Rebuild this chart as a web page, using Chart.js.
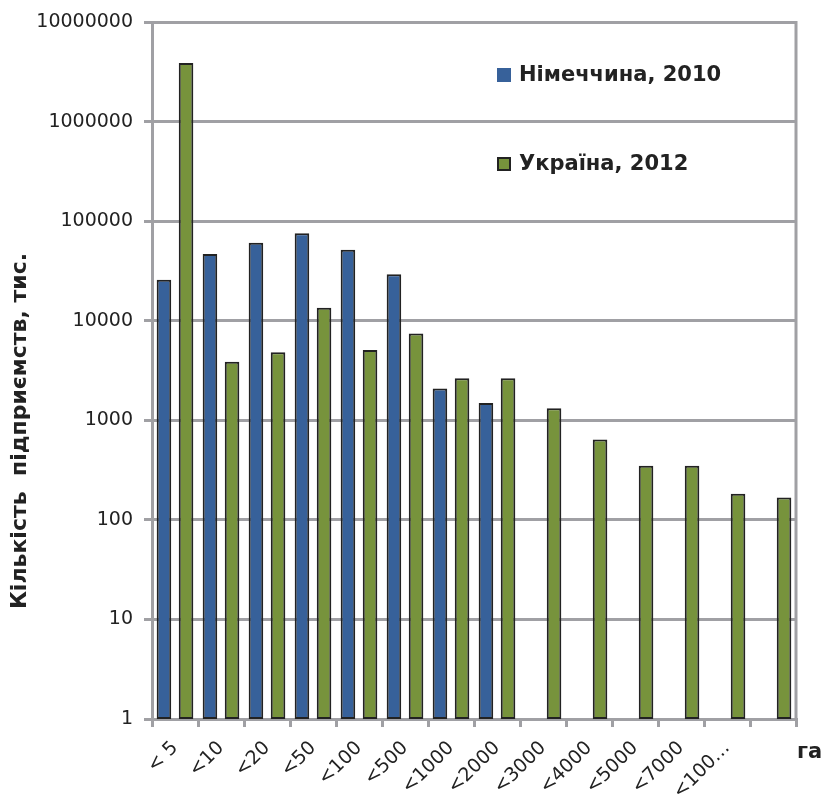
<!DOCTYPE html>
<html>
<head>
<meta charset="utf-8">
<script src="https://cdn.jsdelivr.net/npm/chart.js@4.4.0/dist/chart.umd.min.js"></script>
<style>
  html, body { margin: 0; padding: 0; background: #fff; }
</style>
</head>
<body>
<canvas id="chartFermy" width="826" height="798"></canvas>
<script>
//* DATOS
const Kategorii = ['< 5', '<10', '<20', '<50', '<100', '<500', '<1000', '<2000', '<3000', '<4000', '<5000', '<7000', '<100…', ''];
const Nimechchyna = [26000, 47000, 61000, 76000, 52000, 29500, 2100, 1500, null, null, null, null, null, null];
const Ukraina = [3900000, 3900, 4850, 13600, 5100, 7500, 2650, 2650, 1330, 645, 350, 350, 183, 168];
const RyskyY = [1, 10, 100, 1000, 10000, 100000, 1000000, 10000000];
const Serii = ['Німеччина, 2010', 'Україна, 2012'];
const NazvaY = 'Кількість  підприємств, тис.';
const NazvaX = 'га';

const SIRYI = '#a0a0a4';
const TEKST = '#222222';
const SHRYFT = "'DejaVu Sans', Verdana, sans-serif";
const Kolory = ['#37619a', '#77933c'];

const ctxFermy = document.getElementById('chartFermy');

// leyenda, título del eje y borde derecho dibujados a mano
const Dodatky = {
    id: 'dodatky',
    beforeDatasetsDraw(chart) {
        const { ctx, chartArea: a } = chart;
        ctx.save();
        ctx.strokeStyle = SIRYI;
        ctx.lineWidth = 3;
        ctx.beginPath();
        ctx.moveTo(a.right, a.top - 1.5);
        ctx.lineTo(a.right, a.bottom);
        ctx.stroke();
        ctx.restore();
    },
    afterDraw(chart) {
        const { ctx } = chart;
        ctx.save();
        // leyenda
        const pozY = [75, 164];
        chart.data.datasets.forEach((ds, i) => {
            ctx.fillStyle = ds.backgroundColor;
            ctx.fillRect(497, pozY[i] - 7, 14, 14);
            if (i === 1) {
                ctx.strokeStyle = '#222';
                ctx.lineWidth = 2;
                ctx.strokeRect(498, pozY[i] - 6, 12, 12);
            }
            ctx.fillStyle = TEKST;
            ctx.font = 'bold 21px ' + SHRYFT;
            ctx.textAlign = 'left';
            ctx.textBaseline = 'middle';
            ctx.fillText(ds.label, 519, pozY[i] + 1);
        });
        // título eje Y
        ctx.save();
        ctx.translate(20, 431);
        ctx.rotate(-Math.PI / 2);
        ctx.font = 'bold 22px ' + SHRYFT;
        ctx.textAlign = 'center';
        ctx.textBaseline = 'middle';
        ctx.fillText(NazvaY, 0, 0);
        ctx.restore();
        // unidad eje X
        ctx.font = 'bold 21px ' + SHRYFT;
        ctx.textAlign = 'left';
        ctx.textBaseline = 'middle';
        ctx.fillText(NazvaX, 797, 753);
        ctx.restore();
    }
};

let dataFermy = {
    labels: Kategorii,
    datasets: [{
        label: Serii[0],
        data: Nimechchyna,
        backgroundColor: Kolory[0],
        borderColor: '#222',
        borderWidth: 2,
        borderSkipped: false
    }, {
        label: Serii[1],
        data: Ukraina,
        backgroundColor: Kolory[1],
        borderColor: '#222',
        borderWidth: 2,
        borderSkipped: false
    }]
};

let Options = {
    responsive: false,
    animation: false,
    devicePixelRatio: 1,
    layout: { padding: { top: 6, right: 30, bottom: 0, left: 0 } },
    datasets: { bar: { categoryPercentage: 0.96, barPercentage: 0.66 } },
    plugins: {
        legend: { display: false },
        tooltip: { enabled: false }
    },
    scales: {
        x: {
            offset: true,
            afterFit: (s) => { s.height = 79; },
            grid: { offset: true, drawOnChartArea: false, drawTicks: true, tickLength: 8, color: SIRYI, lineWidth: 3 },
            border: { color: SIRYI, width: 3 },
            ticks: {
                autoSkip: false,
                minRotation: 45,
                maxRotation: 45,
                padding: 10,
                color: TEKST,
                font: { family: SHRYFT, size: 19 }
            }
        },
        y: {
            type: 'logarithmic',
            min: 1,
            max: 10000000,
            afterFit: (s) => { s.width = 152; },
            afterBuildTicks: (s) => { s.ticks = RyskyY.map(v => ({ value: v })); },
            grid: { color: SIRYI, lineWidth: 3, tickLength: 8 },
            border: { color: SIRYI, width: 3 },
            ticks: {
                padding: 11,
                color: TEKST,
                font: { family: SHRYFT, size: 19 },
                callback: (v) => String(v)
            }
        }
    }
};

new Chart(ctxFermy, {
    type: 'bar',
    data: dataFermy,
    options: Options,
    plugins: [Dodatky]
});
</script>
</body>
</html>
